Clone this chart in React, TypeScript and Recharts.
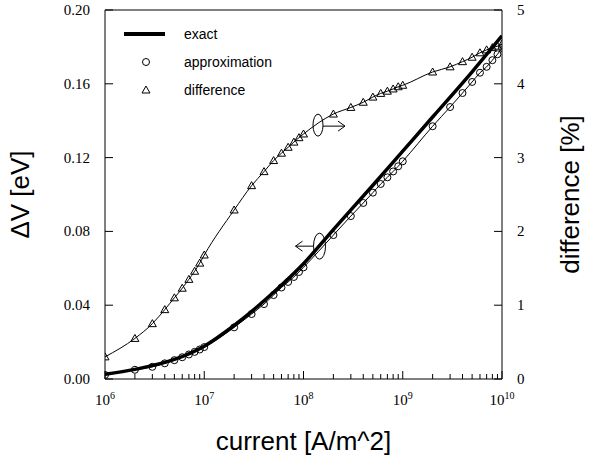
import React from 'react';
import {
  ComposedChart,
  Line,
  XAxis,
  YAxis,
  ReferenceLine,
  ReferenceDot,
  Label,
} from 'recharts';

// current density [A/m^2] where approximation / difference were sampled
const CURRENT = [
  1e6, 2e6, 3e6, 4e6, 5e6, 6e6, 7e6, 8e6, 9e6,
  1e7, 2e7, 3e7, 4e7, 5e7, 6e7, 7e7, 8e7, 9e7,
  1e8, 2e8, 3e8, 4e8, 5e8, 6e8, 7e8, 8e8, 9e8,
  1e9, 2e9, 3e9, 4e9, 5e9, 6e9, 7e9, 8e9, 9e9,
  1e10,
];

// ΔV [eV], approximation (circles)
const APPROX_DV = [
  0.0022, 0.005, 0.0066, 0.0085, 0.0102, 0.0118, 0.0133, 0.0147, 0.016,
  0.0173, 0.028, 0.0352, 0.0406, 0.0455, 0.0496, 0.0526, 0.0553, 0.058,
  0.0605, 0.078, 0.0883, 0.0954, 0.101, 0.1057, 0.1093, 0.1125, 0.1153,
  0.118, 0.137, 0.1474, 0.155, 0.161, 0.166, 0.1692, 0.1728, 0.176,
  0.1794,
];

// difference [%] (triangles, right axis)
const DIFF_PCT = [
  0.3, 0.55, 0.75, 0.94, 1.1, 1.23, 1.35, 1.46, 1.57,
  1.68, 2.29, 2.62, 2.81, 2.96, 3.06, 3.14, 3.21, 3.27,
  3.32, 3.59, 3.68, 3.75, 3.82, 3.87, 3.9, 3.93, 3.96,
  3.98, 4.16, 4.23, 4.3, 4.36, 4.42, 4.46, 4.49, 4.51,
  4.54,
];

// exact solution (thick line)
const EXACT_CURRENT = [1e6, 2e6, 5e6, 1e7, 2e7, 5e7, 1e8, 2e8, 5e8, 1e9, 2e9, 5e9, 1e10];
const EXACT_DV = [0.0025, 0.0052, 0.0106, 0.0178, 0.029, 0.047, 0.0625, 0.081, 0.105, 0.1235, 0.142, 0.1665, 0.186];

const X_MAJOR = [1e6, 1e7, 1e8, 1e9, 1e10];
const X_EXPONENTS = ['6', '7', '8', '9', '10'];
const X_MINOR_MULT = [2, 3, 4, 5, 6, 7, 8, 9];
const DV_TICKS = [0, 0.04, 0.08, 0.12, 0.16, 0.2];
const PCT_TICKS = [0, 1, 2, 3, 4, 5];

// where the little "which axis" ellipses sit
const DIFF_MARK = { x: 1.4e8, y: 3.44 };
const DV_MARK = { x: 1.45e8, y: 0.072 };

const approxData = CURRENT.map((c, i) => ({ c, dv: APPROX_DV[i] }));
const diffData = CURRENT.map((c, i) => ({ c, pct: DIFF_PCT[i] }));
const exactData = EXACT_CURRENT.map((c, i) => ({ c, dv: EXACT_DV[i] }));

const xTicks = [
  ...X_MAJOR,
  ...X_MAJOR.slice(0, -1).flatMap((m) => X_MINOR_MULT.map((k) => m * k)),
].sort((a, b) => a - b);

const SERIF = '"Liberation Serif", "Times New Roman", serif';
const SANS = '"Liberation Sans", Arial, sans-serif';
const TICK_MARGIN = 15;
const TITLE_STYLE = { fontFamily: SANS, fontSize: 26, fill: '#000' };

const XTick = (props: any) => {
  const { x, y, payload } = props;
  const axisY = y - TICK_MARGIN;
  const idx = X_MAJOR.indexOf(payload.value);
  const major = idx >= 0;
  return (
    <g>
      <line x1={x} x2={x} y1={axisY} y2={axisY - (major ? 8 : 5)} stroke="#000" />
      {major && (
        <text x={x} y={y + 11} textAnchor="middle" fontFamily={SERIF} fontSize={15} fill="#000">
          10
          <tspan dy={-6} fontSize={10}>{X_EXPONENTS[idx]}</tspan>
        </text>
      )}
    </g>
  );
};

const LeftTick = (props: any) => {
  const { x, y, payload } = props;
  const axisX = x + TICK_MARGIN;
  return (
    <g>
      <line x1={axisX} x2={axisX + 8} y1={y} y2={y} stroke="#000" />
      <text x={x} y={y + 5} textAnchor="end" fontFamily={SERIF} fontSize={15} fill="#000">
        {payload.value.toFixed(2)}
      </text>
    </g>
  );
};

const RightTick = (props: any) => {
  const { x, y, payload } = props;
  const axisX = x - TICK_MARGIN;
  return (
    <g>
      <line x1={axisX} x2={axisX - 8} y1={y} y2={y} stroke="#000" />
      <text x={x} y={y + 5} textAnchor="start" fontFamily={SERIF} fontSize={15} fill="#000">
        {payload.value}
      </text>
    </g>
  );
};

const Triangle = (props: any) => {
  const { cx, cy, index } = props;
  if (cx == null || cy == null) return <g key={index} />;
  return (
    <polygon
      key={index}
      points={`${cx},${cy - 4} ${cx - 4},${cy + 3} ${cx + 4},${cy + 3}`}
      fill="none"
      stroke="#000"
      strokeWidth={1}
    />
  );
};

const RightArrowMark = (props: any) => {
  const { cx, cy } = props;
  return (
    <g fill="none" stroke="#000" strokeWidth={1}>
      <ellipse cx={cx} cy={cy} rx={5} ry={11} />
      <line x1={cx + 5} y1={cy + 1} x2={cx + 27} y2={cy + 1} />
      <polyline points={`${cx + 20},${cy - 4} ${cx + 27},${cy + 1} ${cx + 20},${cy + 6}`} />
    </g>
  );
};

const LeftArrowMark = (props: any) => {
  const { cx, cy } = props;
  return (
    <g fill="none" stroke="#000" strokeWidth={1}>
      <ellipse cx={cx} cy={cy} rx={6} ry={13} />
      <line x1={cx - 6} y1={cy} x2={cx - 24} y2={cy} />
      <polyline points={`${cx - 17},${cy - 5} ${cx - 24},${cy} ${cx - 17},${cy + 5}`} />
    </g>
  );
};

const LegendBox = () => (
  <div
    style={{
      position: 'absolute',
      left: 118,
      top: 20,
      fontFamily: SANS,
      fontSize: 14,
      color: '#000',
      lineHeight: '28px',
    }}
  >
    {[
      { name: 'exact', icon: <line x1={6} x2={47} y1={14} y2={14} stroke="#000" strokeWidth={4} /> },
      { name: 'approximation', icon: <circle cx={28} cy={14} r={3.5} fill="none" stroke="#000" /> },
      { name: 'difference', icon: <polygon points="28,10 24,17 32,17" fill="none" stroke="#000" /> },
    ].map((it) => (
      <div key={it.name} style={{ display: 'flex', alignItems: 'center', height: 28 }}>
        <svg width={66} height={28}>{it.icon}</svg>
        <span>{it.name}</span>
      </div>
    ))}
  </div>
);

export default function App() {
  return (
    <div style={{ position: 'relative', width: 590, height: 458, background: '#fff' }}>
      <style>{'body{margin:0;}'}</style>
      <ComposedChart width={590} height={458} margin={{ top: 10, right: 0, bottom: 0, left: 0 }}>
        <XAxis
          dataKey="c"
          type="number"
          scale="log"
          domain={[1e6, 1e10]}
          ticks={xTicks}
          interval={0}
          allowDataOverflow
          height={79}
          tickLine={false}
          tickSize={0}
          tickMargin={TICK_MARGIN}
          tick={<XTick />}
          axisLine={{ stroke: '#000' }}
        >
          <Label value="current [A/m^2]" position="insideBottom" offset={8} style={TITLE_STYLE} />
        </XAxis>
        <YAxis
          yAxisId="dv"
          orientation="left"
          domain={[0, 0.2]}
          ticks={DV_TICKS}
          width={105}
          tickLine={false}
          tickSize={0}
          tickMargin={TICK_MARGIN}
          tick={<LeftTick />}
          axisLine={{ stroke: '#000' }}
        >
          <Label
            value="ΔV [eV]"
            angle={-90}
            position="insideLeft"
            offset={20}
            style={{ ...TITLE_STYLE, textAnchor: 'middle' }}
          />
        </YAxis>
        <YAxis
          yAxisId="pct"
          orientation="right"
          domain={[0, 5]}
          ticks={PCT_TICKS}
          width={88}
          tickLine={false}
          tickSize={0}
          tickMargin={TICK_MARGIN}
          tick={<RightTick />}
          axisLine={{ stroke: '#000' }}
        >
          <Label
            value="difference [%]"
            angle={-90}
            position="insideRight"
            offset={20}
            style={{ ...TITLE_STYLE, textAnchor: 'middle' }}
          />
        </YAxis>
        <ReferenceLine yAxisId="dv" y={0.2} stroke="#000" />

        <Line
          yAxisId="pct"
          data={diffData}
          dataKey="pct"
          type="monotone"
          stroke="#000"
          strokeWidth={1}
          dot={<Triangle />}
          isAnimationActive={false}
        />
        <Line
          yAxisId="dv"
          data={approxData}
          dataKey="dv"
          type="monotone"
          stroke="#000"
          strokeWidth={1}
          dot={{ r: 3.5, stroke: '#000', strokeWidth: 1, fill: 'none' }}
          isAnimationActive={false}
        />
        <Line
          yAxisId="dv"
          data={exactData}
          dataKey="dv"
          type="monotone"
          stroke="#000"
          strokeWidth={3.5}
          dot={false}
          isAnimationActive={false}
        />

        <ReferenceDot yAxisId="pct" x={DIFF_MARK.x} y={DIFF_MARK.y} shape={<RightArrowMark />} />
        <ReferenceDot yAxisId="dv" x={DV_MARK.x} y={DV_MARK.y} shape={<LeftArrowMark />} />
      </ComposedChart>
      <LegendBox />
    </div>
  );
}
